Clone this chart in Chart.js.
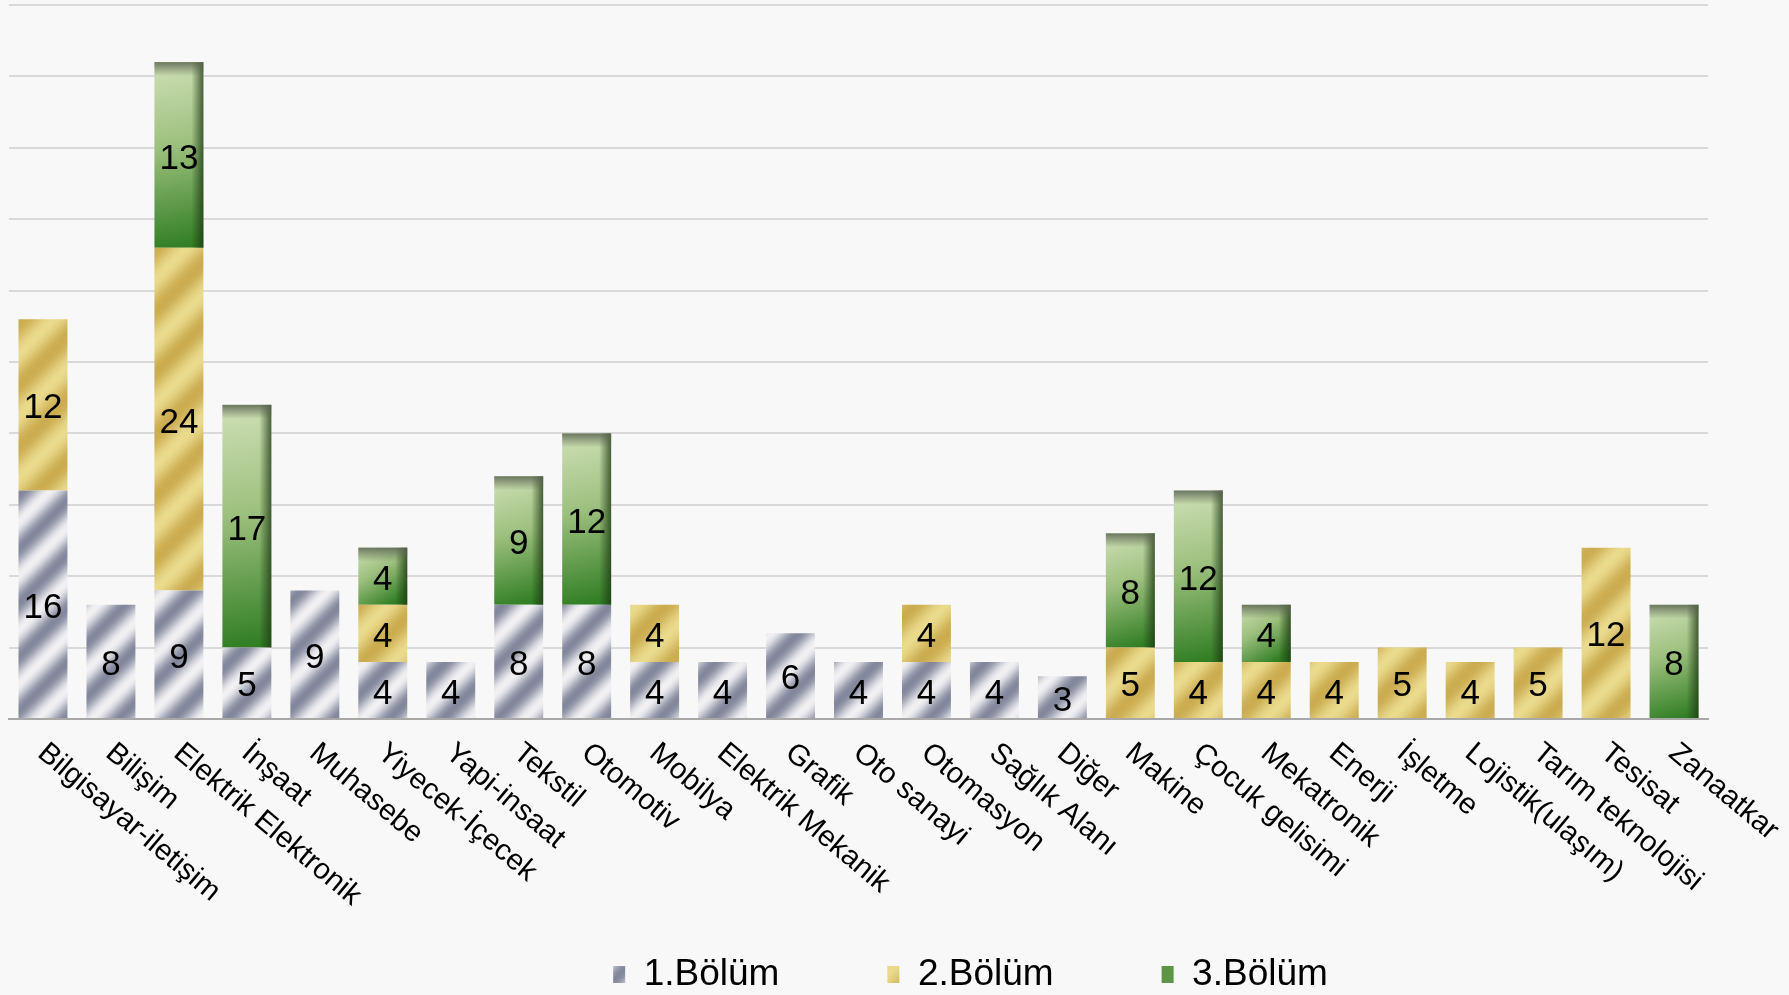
<!DOCTYPE html>
<html>
<head>
<meta charset="utf-8">
<script src="https://cdn.jsdelivr.net/npm/chart.js@4"></script>
<style>
  html, body { margin: 0; padding: 0; background: #f8f8f8; overflow: hidden; }
  #chart { display: block; }
</style>
</head>
<body>
<canvas id="chart" width="1789" height="1003"></canvas>
<script>
var labels = ['Bilgisayar-iletişim', 'Bilişim', 'Elektrik Elektronik', 'İnşaat', 'Muhasebe',
  'Yiyecek-İçecek', 'Yapi-insaat', 'Tekstil', 'Otomotiv', 'Mobilya', 'Elektrik Mekanik',
  'Grafik', 'Oto sanayi', 'Otomasyon', 'Sağlık Alanı', 'Diğer', 'Makine', 'Çocuk gelisimi',
  'Mekatronik', 'Enerji', 'İşletme', 'Lojistik(ulaşım)', 'Tarım teknolojisi', 'Tesisat', 'Zanaatkar'];
var bolum1 = [16, 8, 9, 5, 9, 4, 4, 8, 8, 4, 4, 6, 4, 4, 4, 3, null, null, null, null, null, null, null, null, null];
var bolum2 = [12, null, 24, null, null, 4, null, null, null, 4, null, null, null, 4, null, null, 5, 4, 4, 4, 5, 4, 5, 12, null];
var bolum3 = [null, null, 13, 17, null, 4, null, 9, 12, null, null, null, null, null, null, null, 8, 12, 4, null, null, null, null, null, 8];
var seriesNames = ['1.Bölüm', '2.Bölüm', '3.Bölüm'];
var yMax = 50, yStep = 5;

// diagonal metallic stripes
function stripes(light, dark, period) {
  var c = document.createElement('canvas');
  c.width = c.height = period;
  var g = c.getContext('2d');
  var img = g.createImageData(period, period);
  for (var y = 0; y < period; y++) {
    for (var x = 0; x < period; x++) {
      var t = ((x + y) % period) / period;
      var w = 0.5 - 0.5 * Math.cos(2 * Math.PI * t);
      var p = (y * period + x) * 4;
      for (var k = 0; k < 3; k++) img.data[p + k] = Math.round(light[k] + (dark[k] - light[k]) * w);
      img.data[p + 3] = 255;
    }
  }
  g.putImageData(img, 0, 0);
  return g.createPattern(c, 'repeat');
}
var grayFill = stripes([240, 240, 243], [130, 135, 155], 54);
var goldFill = stripes([234, 218, 140], [203, 172, 80], 62);

function greenFill(c) {
  var chart = c.chart;
  var v = c.raw;
  if (c.type !== 'data' || !v || !chart.scales.y) return '#5c9545';
  var ds = chart.data.datasets, top = 0;
  for (var k = 0; k <= c.datasetIndex; k++) top += ds[k].data[c.dataIndex] || 0;
  var x = chart.scales.x.getPixelForValue(c.dataIndex);
  var half = chart.scales.x.width / labels.length * 0.36;
  var y0 = chart.scales.y.getPixelForValue(top);
  var y1 = chart.scales.y.getPixelForValue(top - v);
  var g = chart.ctx.createLinearGradient(x - half, y0, x + half * 0.4, y1);
  g.addColorStop(0, '#cfe0b6');
  g.addColorStop(0.45, '#9dc07e');
  g.addColorStop(1, '#2f7d22');
  return g;
}

var shadePlugin = {
  id: 'shade',
  afterDatasetsDraw: function (chart) {
    var ctx = chart.ctx;
    var meta = chart.getDatasetMeta(2);
    meta.data.forEach(function (el, i) {
      if (!bolum3[i]) return;
      var p = el.getProps(['x', 'y', 'base', 'width'], true);
      var r = p.x + p.width / 2, l = p.x - p.width / 2;
      var g = ctx.createLinearGradient(r - 12, 0, r, 0);
      g.addColorStop(0, 'rgba(30,55,20,0)');
      g.addColorStop(1, 'rgba(30,55,20,0.75)');
      ctx.fillStyle = g;
      ctx.fillRect(r - 12, p.y, 12, p.base - p.y);
      var t = ctx.createLinearGradient(0, p.y, 0, p.y + 14);
      t.addColorStop(0, 'rgba(90,100,80,0.85)');
      t.addColorStop(1, 'rgba(90,100,80,0)');
      ctx.fillStyle = t;
      ctx.fillRect(l, p.y, p.width, 14);
    });
  }
};

var valuePlugin = {
  id: 'values',
  afterDatasetsDraw: function (chart) {
    var ctx = chart.ctx;
    ctx.save();
    ctx.font = '35px "Liberation Sans", Arial, sans-serif';
    ctx.fillStyle = '#000';
    ctx.textAlign = 'center';
    ctx.textBaseline = 'middle';
    chart.data.datasets.forEach(function (ds, di) {
      chart.getDatasetMeta(di).data.forEach(function (el, i) {
        var v = ds.data[i];
        if (!v) return;
        var pt = el.getCenterPoint();
        ctx.fillText(String(v), pt.x, pt.y + 4);
      });
    });
    ctx.restore();
  }
};

var xLabelPlugin = {
  id: 'xlabels',
  afterDraw: function (chart) {
    var ctx = chart.ctx;
    var xs = chart.scales.x;
    ctx.save();
    ctx.font = '29.5px "Liberation Sans", Arial, sans-serif';
    ctx.fillStyle = '#000';
    ctx.textAlign = 'left';
    ctx.textBaseline = 'top';
    labels.forEach(function (lab, i) {
      var x = xs.getPixelForValue(i);
      ctx.save();
      ctx.translate(x + 8, chart.chartArea.bottom + 19);
      ctx.rotate(40 * Math.PI / 180);
      ctx.fillText(lab, 0, 0);
      ctx.restore();
    });
    ctx.restore();
  }
};

// legend sits right of centre in the original
var legendShift = {
  id: 'legendShift',
  afterLayout: function (chart) {
    chart.legend.left += 112;
    chart.legend.right += 112;
  }
};

new Chart(document.getElementById('chart'), {
  type: 'bar',
  data: {
    labels: labels,
    datasets: [
      { label: seriesNames[0], data: bolum1, backgroundColor: grayFill },
      { label: seriesNames[1], data: bolum2, backgroundColor: goldFill },
      { label: seriesNames[2], data: bolum3, backgroundColor: greenFill }
    ]
  },
  options: {
    responsive: false,
    animation: false,
    barPercentage: 0.72,
    categoryPercentage: 1,
    layout: { padding: { left: 9, right: 81, top: 5, bottom: 0 } },
    scales: {
      x: {
        stacked: true,
        grid: { display: false },
        border: { display: true, color: '#a8a8a8', width: 2 },
        ticks: { display: false },
        afterFit: function (scale) { scale.height = 129; }
      },
      y: {
        stacked: true,
        min: 0,
        max: yMax,
        ticks: { display: false, stepSize: yStep },
        grid: { color: '#d9d9d9', lineWidth: 2, drawTicks: false },
        border: { display: false }
      }
    },
    plugins: {
      tooltip: { enabled: false },
      legend: {
        position: 'bottom',
        labels: {
          color: '#000',
          font: { size: 37, family: '"Liberation Sans", Arial, sans-serif' },
          boxWidth: 12,
          boxHeight: 17,
          padding: 108
        }
      }
    }
  },
  plugins: [shadePlugin, valuePlugin, xLabelPlugin, legendShift]
});
</script>
</body>
</html>
